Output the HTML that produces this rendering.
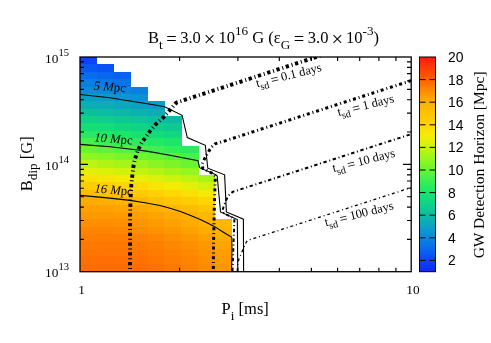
<!DOCTYPE html><html><head><meta charset="utf-8"><style>html,body{margin:0;padding:0;background:#fff}svg{display:block;will-change:transform}text{font-family:"Liberation Serif",serif;fill:#000}.s{font-family:"Liberation Sans",sans-serif}</style></head><body>
<svg width="491" height="343" viewBox="0 0 491 343">
<rect width="491" height="343" fill="#fff"/>
<defs><linearGradient id="cb" x1="0" y1="0" x2="0" y2="1"><stop offset="0.0000" stop-color="#ff190f"/><stop offset="0.1053" stop-color="#ff6103"/><stop offset="0.1579" stop-color="#ff8a00"/><stop offset="0.2105" stop-color="#ffb000"/><stop offset="0.3158" stop-color="#ffd404"/><stop offset="0.3684" stop-color="#f5ec05"/><stop offset="0.4211" stop-color="#c8f30c"/><stop offset="0.4737" stop-color="#96f61e"/><stop offset="0.5263" stop-color="#66f532"/><stop offset="0.5789" stop-color="#3aee55"/><stop offset="0.6316" stop-color="#18e56c"/><stop offset="0.6842" stop-color="#0ed287"/><stop offset="0.7368" stop-color="#0cbba2"/><stop offset="0.7895" stop-color="#0ca2c3"/><stop offset="0.8421" stop-color="#0a87de"/><stop offset="0.8947" stop-color="#0869ee"/><stop offset="0.9474" stop-color="#0a46f6"/><stop offset="1.0000" stop-color="#1228fa"/></linearGradient><clipPath id="cp"><rect x="80.0" y="57.0" width="331.0" height="214.7"/></clipPath></defs>
<g shape-rendering="crispEdges">
<rect x="80.00" y="57.00" width="17.19" height="7.68" fill="#0b44f6"/>
<rect x="80.00" y="64.38" width="17.19" height="7.68" fill="#0958f2"/>
<rect x="80.00" y="71.76" width="17.19" height="7.68" fill="#086dec"/>
<rect x="80.00" y="79.14" width="17.19" height="7.68" fill="#097ee3"/>
<rect x="80.00" y="86.52" width="17.19" height="7.68" fill="#0b8ed7"/>
<rect x="80.00" y="93.90" width="17.19" height="7.68" fill="#0c9fc6"/>
<rect x="80.00" y="101.28" width="17.19" height="7.68" fill="#0cafb1"/>
<rect x="80.00" y="108.66" width="17.19" height="7.68" fill="#0cc09c"/>
<rect x="80.00" y="116.03" width="17.19" height="7.68" fill="#0ed188"/>
<rect x="80.00" y="123.41" width="17.19" height="7.68" fill="#15df74"/>
<rect x="80.00" y="130.79" width="17.19" height="7.68" fill="#28e961"/>
<rect x="80.00" y="138.17" width="17.19" height="7.68" fill="#45f04c"/>
<rect x="80.00" y="145.55" width="17.19" height="7.68" fill="#68f531"/>
<rect x="80.00" y="152.93" width="17.19" height="7.68" fill="#90f621"/>
<rect x="80.00" y="160.31" width="17.19" height="7.68" fill="#baf411"/>
<rect x="80.00" y="167.69" width="17.19" height="7.68" fill="#e3ef08"/>
<rect x="80.00" y="175.07" width="17.19" height="7.68" fill="#fae005"/>
<rect x="80.00" y="182.45" width="17.19" height="7.68" fill="#ffcd03"/>
<rect x="80.00" y="189.83" width="17.19" height="7.68" fill="#ffbd01"/>
<rect x="80.00" y="197.21" width="17.19" height="7.68" fill="#ffac00"/>
<rect x="80.00" y="204.59" width="17.19" height="7.68" fill="#ffa100"/>
<rect x="80.00" y="211.97" width="17.19" height="7.68" fill="#ff9900"/>
<rect x="80.00" y="219.34" width="17.19" height="7.68" fill="#ff8e00"/>
<rect x="80.00" y="226.72" width="17.19" height="7.68" fill="#ff8500"/>
<rect x="80.00" y="234.10" width="17.19" height="7.68" fill="#ff7f01"/>
<rect x="80.00" y="241.48" width="17.19" height="7.68" fill="#ff7a01"/>
<rect x="80.00" y="248.86" width="17.19" height="7.68" fill="#ff7502"/>
<rect x="80.00" y="256.24" width="17.19" height="7.68" fill="#ff7002"/>
<rect x="80.00" y="263.62" width="17.19" height="8.38" fill="#ff6c02"/>
<rect x="96.89" y="64.38" width="17.19" height="7.68" fill="#0952f3"/>
<rect x="96.89" y="71.76" width="17.19" height="7.68" fill="#0867ee"/>
<rect x="96.89" y="79.14" width="17.19" height="7.68" fill="#0979e5"/>
<rect x="96.89" y="86.52" width="17.19" height="7.68" fill="#0a8adb"/>
<rect x="96.89" y="93.90" width="17.19" height="7.68" fill="#0b9acb"/>
<rect x="96.89" y="101.28" width="17.19" height="7.68" fill="#0cabb7"/>
<rect x="96.89" y="108.66" width="17.19" height="7.68" fill="#0cbca1"/>
<rect x="96.89" y="116.03" width="17.19" height="7.68" fill="#0ecd8d"/>
<rect x="96.89" y="123.41" width="17.19" height="7.68" fill="#13dc79"/>
<rect x="96.89" y="130.79" width="17.19" height="7.68" fill="#21e766"/>
<rect x="96.89" y="138.17" width="17.19" height="7.68" fill="#3dee53"/>
<rect x="96.89" y="145.55" width="17.19" height="7.68" fill="#60f437"/>
<rect x="96.89" y="152.93" width="17.19" height="7.68" fill="#86f625"/>
<rect x="96.89" y="160.31" width="17.19" height="7.68" fill="#b0f415"/>
<rect x="96.89" y="167.69" width="17.19" height="7.68" fill="#daf009"/>
<rect x="96.89" y="175.07" width="17.19" height="7.68" fill="#f8e505"/>
<rect x="96.89" y="182.45" width="17.19" height="7.68" fill="#ffd104"/>
<rect x="96.89" y="189.83" width="17.19" height="7.68" fill="#ffc102"/>
<rect x="96.89" y="197.21" width="17.19" height="7.68" fill="#ffb000"/>
<rect x="96.89" y="204.59" width="17.19" height="7.68" fill="#ffa200"/>
<rect x="96.89" y="211.97" width="17.19" height="7.68" fill="#ff9900"/>
<rect x="96.89" y="219.34" width="17.19" height="7.68" fill="#ff8f00"/>
<rect x="96.89" y="226.72" width="17.19" height="7.68" fill="#ff8400"/>
<rect x="96.89" y="234.10" width="17.19" height="7.68" fill="#ff7d01"/>
<rect x="96.89" y="241.48" width="17.19" height="7.68" fill="#ff7901"/>
<rect x="96.89" y="248.86" width="17.19" height="7.68" fill="#ff7402"/>
<rect x="96.89" y="256.24" width="17.19" height="7.68" fill="#ff6e02"/>
<rect x="96.89" y="263.62" width="17.19" height="8.38" fill="#ff6a02"/>
<rect x="113.78" y="71.76" width="17.19" height="7.68" fill="#0861f0"/>
<rect x="113.78" y="79.14" width="17.19" height="7.68" fill="#0974e8"/>
<rect x="113.78" y="86.52" width="17.19" height="7.68" fill="#0a86df"/>
<rect x="113.78" y="93.90" width="17.19" height="7.68" fill="#0b96cf"/>
<rect x="113.78" y="101.28" width="17.19" height="7.68" fill="#0ca6bd"/>
<rect x="113.78" y="108.66" width="17.19" height="7.68" fill="#0cb7a7"/>
<rect x="113.78" y="116.03" width="17.19" height="7.68" fill="#0dc893"/>
<rect x="113.78" y="123.41" width="17.19" height="7.68" fill="#11d87f"/>
<rect x="113.78" y="130.79" width="17.19" height="7.68" fill="#1ae66b"/>
<rect x="113.78" y="138.17" width="17.19" height="7.68" fill="#35ed59"/>
<rect x="113.78" y="145.55" width="17.19" height="7.68" fill="#56f23f"/>
<rect x="113.78" y="152.93" width="17.19" height="7.68" fill="#7bf529"/>
<rect x="113.78" y="160.31" width="17.19" height="7.68" fill="#a4f519"/>
<rect x="113.78" y="167.69" width="17.19" height="7.68" fill="#cff20b"/>
<rect x="113.78" y="175.07" width="17.19" height="7.68" fill="#f5eb05"/>
<rect x="113.78" y="182.45" width="17.19" height="7.68" fill="#fed604"/>
<rect x="113.78" y="189.83" width="17.19" height="7.68" fill="#ffc502"/>
<rect x="113.78" y="197.21" width="17.19" height="7.68" fill="#ffb400"/>
<rect x="113.78" y="204.59" width="17.19" height="7.68" fill="#ffa400"/>
<rect x="113.78" y="211.97" width="17.19" height="7.68" fill="#ff9a00"/>
<rect x="113.78" y="219.34" width="17.19" height="7.68" fill="#ff9100"/>
<rect x="113.78" y="226.72" width="17.19" height="7.68" fill="#ff8600"/>
<rect x="113.78" y="234.10" width="17.19" height="7.68" fill="#ff7e01"/>
<rect x="113.78" y="241.48" width="17.19" height="7.68" fill="#ff7901"/>
<rect x="113.78" y="248.86" width="17.19" height="7.68" fill="#ff7402"/>
<rect x="113.78" y="256.24" width="17.19" height="7.68" fill="#ff6f02"/>
<rect x="113.78" y="263.62" width="17.19" height="8.38" fill="#ff6a02"/>
<rect x="130.67" y="86.52" width="17.19" height="7.68" fill="#0a81e1"/>
<rect x="130.67" y="93.90" width="17.19" height="7.68" fill="#0b91d4"/>
<rect x="130.67" y="101.28" width="17.19" height="7.68" fill="#0ca1c4"/>
<rect x="130.67" y="108.66" width="17.19" height="7.68" fill="#0cb2ae"/>
<rect x="130.67" y="116.03" width="17.19" height="7.68" fill="#0dc399"/>
<rect x="130.67" y="123.41" width="17.19" height="7.68" fill="#0fd385"/>
<rect x="130.67" y="130.79" width="17.19" height="7.68" fill="#16e271"/>
<rect x="130.67" y="138.17" width="17.19" height="7.68" fill="#2cea5e"/>
<rect x="130.67" y="145.55" width="17.19" height="7.68" fill="#4bf147"/>
<rect x="130.67" y="152.93" width="17.19" height="7.68" fill="#6ff52e"/>
<rect x="130.67" y="160.31" width="17.19" height="7.68" fill="#97f61e"/>
<rect x="130.67" y="167.69" width="17.19" height="7.68" fill="#c2f30e"/>
<rect x="130.67" y="175.07" width="17.19" height="7.68" fill="#ebee07"/>
<rect x="130.67" y="182.45" width="17.19" height="7.68" fill="#fcdc04"/>
<rect x="130.67" y="189.83" width="17.19" height="7.68" fill="#ffca03"/>
<rect x="130.67" y="197.21" width="17.19" height="7.68" fill="#ffb901"/>
<rect x="130.67" y="204.59" width="17.19" height="7.68" fill="#ffa800"/>
<rect x="130.67" y="211.97" width="17.19" height="7.68" fill="#ff9e00"/>
<rect x="130.67" y="219.34" width="17.19" height="7.68" fill="#ff9500"/>
<rect x="130.67" y="226.72" width="17.19" height="7.68" fill="#ff8b00"/>
<rect x="130.67" y="234.10" width="17.19" height="7.68" fill="#ff8101"/>
<rect x="130.67" y="241.48" width="17.19" height="7.68" fill="#ff7b01"/>
<rect x="130.67" y="248.86" width="17.19" height="7.68" fill="#ff7701"/>
<rect x="130.67" y="256.24" width="17.19" height="7.68" fill="#ff7202"/>
<rect x="130.67" y="263.62" width="17.19" height="8.38" fill="#ff6d02"/>
<rect x="147.56" y="101.28" width="17.19" height="7.68" fill="#0c9cc9"/>
<rect x="147.56" y="108.66" width="17.19" height="7.68" fill="#0cadb5"/>
<rect x="147.56" y="116.03" width="17.19" height="7.68" fill="#0cbe9f"/>
<rect x="147.56" y="123.41" width="17.19" height="7.68" fill="#0ece8b"/>
<rect x="147.56" y="130.79" width="17.19" height="7.68" fill="#14dd77"/>
<rect x="147.56" y="138.17" width="17.19" height="7.68" fill="#24e864"/>
<rect x="147.56" y="145.55" width="17.19" height="7.68" fill="#40ef51"/>
<rect x="147.56" y="152.93" width="17.19" height="7.68" fill="#63f435"/>
<rect x="147.56" y="160.31" width="17.19" height="7.68" fill="#89f623"/>
<rect x="147.56" y="167.69" width="17.19" height="7.68" fill="#b3f413"/>
<rect x="147.56" y="175.07" width="17.19" height="7.68" fill="#ddf009"/>
<rect x="147.56" y="182.45" width="17.19" height="7.68" fill="#f8e405"/>
<rect x="147.56" y="189.83" width="17.19" height="7.68" fill="#ffd004"/>
<rect x="147.56" y="197.21" width="17.19" height="7.68" fill="#ffc002"/>
<rect x="147.56" y="204.59" width="17.19" height="7.68" fill="#ffaf00"/>
<rect x="147.56" y="211.97" width="17.19" height="7.68" fill="#ffa300"/>
<rect x="147.56" y="219.34" width="17.19" height="7.68" fill="#ff9a00"/>
<rect x="147.56" y="226.72" width="17.19" height="7.68" fill="#ff9000"/>
<rect x="147.56" y="234.10" width="17.19" height="7.68" fill="#ff8600"/>
<rect x="147.56" y="241.48" width="17.19" height="7.68" fill="#ff8001"/>
<rect x="147.56" y="248.86" width="17.19" height="7.68" fill="#ff7b01"/>
<rect x="147.56" y="256.24" width="17.19" height="7.68" fill="#ff7601"/>
<rect x="147.56" y="263.62" width="17.19" height="8.38" fill="#ff7102"/>
<rect x="164.45" y="116.03" width="17.19" height="7.68" fill="#0cb8a6"/>
<rect x="164.45" y="123.41" width="17.19" height="7.68" fill="#0dc992"/>
<rect x="164.45" y="130.79" width="17.19" height="7.68" fill="#11d87e"/>
<rect x="164.45" y="138.17" width="17.19" height="7.68" fill="#1be66a"/>
<rect x="164.45" y="145.55" width="17.19" height="7.68" fill="#35ed59"/>
<rect x="164.45" y="152.93" width="17.19" height="7.68" fill="#56f23f"/>
<rect x="164.45" y="160.31" width="17.19" height="7.68" fill="#7bf529"/>
<rect x="164.45" y="167.69" width="17.19" height="7.68" fill="#a3f519"/>
<rect x="164.45" y="175.07" width="17.19" height="7.68" fill="#cef20b"/>
<rect x="164.45" y="182.45" width="17.19" height="7.68" fill="#f5ec05"/>
<rect x="164.45" y="189.83" width="17.19" height="7.68" fill="#fed704"/>
<rect x="164.45" y="197.21" width="17.19" height="7.68" fill="#ffc602"/>
<rect x="164.45" y="204.59" width="17.19" height="7.68" fill="#ffb501"/>
<rect x="164.45" y="211.97" width="17.19" height="7.68" fill="#ffaa00"/>
<rect x="164.45" y="219.34" width="17.19" height="7.68" fill="#ffa100"/>
<rect x="164.45" y="226.72" width="17.19" height="7.68" fill="#ff9800"/>
<rect x="164.45" y="234.10" width="17.19" height="7.68" fill="#ff8e00"/>
<rect x="164.45" y="241.48" width="17.19" height="7.68" fill="#ff8600"/>
<rect x="164.45" y="248.86" width="17.19" height="7.68" fill="#ff8101"/>
<rect x="164.45" y="256.24" width="17.19" height="7.68" fill="#ff7d01"/>
<rect x="164.45" y="263.62" width="17.19" height="8.38" fill="#ff7801"/>
<rect x="181.34" y="145.55" width="17.19" height="7.68" fill="#2bea5f"/>
<rect x="181.34" y="152.93" width="17.19" height="7.68" fill="#48f04a"/>
<rect x="181.34" y="160.31" width="17.19" height="7.68" fill="#6bf530"/>
<rect x="181.34" y="167.69" width="17.19" height="7.68" fill="#92f61f"/>
<rect x="181.34" y="175.07" width="17.19" height="7.68" fill="#bdf410"/>
<rect x="181.34" y="182.45" width="17.19" height="7.68" fill="#e5ef08"/>
<rect x="181.34" y="189.83" width="17.19" height="7.68" fill="#fae004"/>
<rect x="181.34" y="197.21" width="17.19" height="7.68" fill="#ffcd03"/>
<rect x="181.34" y="204.59" width="17.19" height="7.68" fill="#ffbc01"/>
<rect x="181.34" y="211.97" width="17.19" height="7.68" fill="#ffb200"/>
<rect x="181.34" y="219.34" width="17.19" height="7.68" fill="#ffaa00"/>
<rect x="181.34" y="226.72" width="17.19" height="7.68" fill="#ffa100"/>
<rect x="181.34" y="234.10" width="17.19" height="7.68" fill="#ff9700"/>
<rect x="181.34" y="241.48" width="17.19" height="7.68" fill="#ff8f00"/>
<rect x="181.34" y="248.86" width="17.19" height="7.68" fill="#ff8a00"/>
<rect x="181.34" y="256.24" width="17.19" height="7.68" fill="#ff8500"/>
<rect x="181.34" y="263.62" width="17.19" height="8.38" fill="#ff8001"/>
<rect x="198.23" y="175.07" width="17.19" height="7.68" fill="#aaf517"/>
<rect x="198.23" y="182.45" width="17.19" height="7.68" fill="#d3f10a"/>
<rect x="198.23" y="189.83" width="17.19" height="7.68" fill="#f6e905"/>
<rect x="198.23" y="197.21" width="17.19" height="7.68" fill="#ffd504"/>
<rect x="198.23" y="204.59" width="17.19" height="7.68" fill="#ffc502"/>
<rect x="198.23" y="211.97" width="17.19" height="7.68" fill="#ffb701"/>
<rect x="198.23" y="219.34" width="17.19" height="7.68" fill="#ffb200"/>
<rect x="198.23" y="226.72" width="17.19" height="7.68" fill="#ffab00"/>
<rect x="198.23" y="234.10" width="17.19" height="7.68" fill="#ffa100"/>
<rect x="198.23" y="241.48" width="17.19" height="7.68" fill="#ff9800"/>
<rect x="198.23" y="248.86" width="17.19" height="7.68" fill="#ff9300"/>
<rect x="198.23" y="256.24" width="17.19" height="7.68" fill="#ff8f00"/>
<rect x="198.23" y="263.62" width="17.19" height="8.38" fill="#ff8a00"/>
<rect x="215.12" y="219.34" width="17.19" height="7.68" fill="#ffb701"/>
<rect x="215.12" y="226.72" width="17.19" height="7.68" fill="#ffb300"/>
<rect x="215.12" y="234.10" width="17.19" height="7.68" fill="#ffae00"/>
<rect x="215.12" y="241.48" width="17.19" height="7.68" fill="#ffa400"/>
<rect x="215.12" y="248.86" width="17.19" height="7.68" fill="#ff9e00"/>
<rect x="215.12" y="256.24" width="17.19" height="7.68" fill="#ff9a00"/>
<rect x="215.12" y="263.62" width="17.19" height="8.38" fill="#ff9600"/>
</g>
<g clip-path="url(#cp)" fill="none" stroke="#000" stroke-linejoin="miter">
<path d="M79.5,94.4 L110.0,97.8 L125.0,100.3 L147.5,103.8 L164.7,106.8 L182.1,115.3 L187.3,137.6 L205.3,145.3 L207.8,168.2 L224.6,174.8 L226.4,211.9 L243.4,219.2 L243.6,272.0" stroke-width="1.1"/>
<path d="M79.5,144.3 L110.0,146.8 L138.0,150.0 L148.0,151.4 L168.6,155.0 L198.0,160.6 L199.6,167.7 L215.9,174.8 L217.2,176.0 L220.5,211.9 L237.3,219.5 L237.8,272.0" stroke-width="1.1"/>
<path d="M79.5,195.3 L105.0,197.6 L130.0,200.4 L145.0,202.8 L160.0,205.5 L170.0,208.2 L180.4,211.6 L190.0,215.3 L200.8,219.8 L208.0,223.3 L215.0,226.9 L223.0,232.0 L231.8,237.4 L232.0,250.0 L231.6,272.0" stroke-width="1.1"/>
<path d="M130.1,272.0 L130.1,215.0 L130.5,200.0 L131.3,185.0 L132.3,175.7 L133.5,166.0 L135.1,158.6 L138.7,148.6 L141.5,143.0 L145.7,137.1 L150.0,131.0 L155.7,124.3 L163.8,117.0 L169.3,110.7 L176.4,102.6 L330.0,52.5" stroke-width="3.9" stroke-dasharray="3.3 2.85 1 2.6" stroke-dashoffset="3.1" stroke-linejoin="round"/>
<path d="M213.3,272.0 L213.6,240.0 L214.5,200.0 L215.2,181.0 L215.4,176.0 L211.3,172.8 L202.7,168.2 L202.1,164.1 L204.2,159.5 L206.3,155.4 L208.9,151.1 L211.4,147.2 L215.0,143.9 L224.2,141.1 L415.0,79.4" stroke-width="3.0" stroke-dasharray="3.0 2.9 1 2.8" stroke-dashoffset="-3" stroke-linejoin="round"/>
<path d="M232.5,272.0 L234.3,222.0 L234.3,218.6 L223.7,213.0 L222.5,210.6 L223.4,207.4 L225.3,202.4 L227.6,197.0 L230.0,194.0 L233.2,191.6 L236.0,190.8 L415.0,132.9" stroke-width="2.0" stroke-dasharray="3.4 2.7 1 2.6" stroke-dashoffset="-1" stroke-linejoin="round"/>
<path d="M237.2,272.0 L237.7,264.0 L239.0,258.9 L241.3,253.6 L244.2,246.5 L245.7,243.3 L247.2,240.7 L250.0,239.7 L415.0,186.4" stroke-width="1.3" stroke-dasharray="3.0 2.9 1 2.8" stroke-dashoffset="-1" stroke-linejoin="round"/>
</g>
<g stroke="#000" stroke-width="1.15" fill="none">
<rect x="80.0" y="57.0" width="331.2" height="214.7" stroke-width="1.3"/>
<path d="M179.6,271.7v-4 M179.6,57.0v4 M237.9,271.7v-4 M237.9,57.0v4 M279.3,271.7v-4 M279.3,57.0v4 M311.4,271.7v-4 M311.4,57.0v4 M337.6,271.7v-4 M337.6,57.0v4 M359.7,271.7v-4 M359.7,57.0v4 M378.9,271.7v-4 M378.9,57.0v4 M395.9,271.7v-4 M395.9,57.0v4 M80.0,239.4h4 M411.0,239.4h-4 M80.0,220.5h4 M411.0,220.5h-4 M80.0,207.1h4 M411.0,207.1h-4 M80.0,196.7h4 M411.0,196.7h-4 M80.0,188.2h4 M411.0,188.2h-4 M80.0,181.0h4 M411.0,181.0h-4 M80.0,174.8h4 M411.0,174.8h-4 M80.0,169.3h4 M411.0,169.3h-4 M80.0,164.3h8 M411.0,164.3h-8 M80.0,132.0h4 M411.0,132.0h-4 M80.0,113.1h4 M411.0,113.1h-4 M80.0,99.7h4 M411.0,99.7h-4 M80.0,89.3h4 M411.0,89.3h-4 M80.0,80.8h4 M411.0,80.8h-4 M80.0,73.6h4 M411.0,73.6h-4 M80.0,67.4h4 M411.0,67.4h-4 M80.0,61.9h4 M411.0,61.9h-4"/>
</g>
<rect x="419.5" y="57.0" width="16.0" height="214.7" fill="url(#cb)" stroke="#000" stroke-width="1"/>
<path d="M419.5,260.4h6 M435.5,260.4h-6 M419.5,237.8h6 M435.5,237.8h-6 M419.5,215.2h6 M435.5,215.2h-6 M419.5,192.6h6 M435.5,192.6h-6 M419.5,170.0h6 M435.5,170.0h-6 M419.5,147.4h6 M435.5,147.4h-6 M419.5,124.8h6 M435.5,124.8h-6 M419.5,102.2h6 M435.5,102.2h-6 M419.5,79.6h6 M435.5,79.6h-6" stroke="#000" stroke-width="1" fill="none"/>
<text class="s" x="448" y="265.4" font-size="13.9">2</text>
<text class="s" x="448" y="242.8" font-size="13.9">4</text>
<text class="s" x="448" y="220.2" font-size="13.9">6</text>
<text class="s" x="448" y="197.6" font-size="13.9">8</text>
<text class="s" x="448" y="175.0" font-size="13.9">10</text>
<text class="s" x="448" y="152.4" font-size="13.9">12</text>
<text class="s" x="448" y="129.8" font-size="13.9">14</text>
<text class="s" x="448" y="107.2" font-size="13.9">16</text>
<text class="s" x="448" y="84.6" font-size="13.9">18</text>
<text class="s" x="448" y="62.0" font-size="13.9">20</text>
<text x="263.5" y="43.3" font-size="16.5" text-anchor="middle">B<tspan font-size="13.20" dy="5.94">t</tspan><tspan dy="-5.94" font-size="16.5">​</tspan> <tspan font-size="18.48" dx="-0.56" dy="1.65">=</tspan><tspan dx="-0.56" dy="-1.65" font-size="16.5"> </tspan>3.0 <tspan font-size="20.6" dx="-1.15" dy="2.3">×</tspan><tspan dx="-1.15" dy="-2.3"> </tspan>10<tspan font-size="13.20" dy="-8.25">16</tspan><tspan dy="8.25" font-size="16.5">​</tspan> G (ε<tspan font-size="13.20" dy="5.94">G</tspan><tspan dy="-5.94" font-size="16.5">​</tspan> <tspan font-size="18.48" dx="-0.56" dy="1.65">=</tspan><tspan dx="-0.56" dy="-1.65" font-size="16.5"> </tspan>3.0 <tspan font-size="20.6" dx="-1.15" dy="2.3">×</tspan><tspan dx="-1.15" dy="-2.3"> </tspan>10<tspan font-size="13.20" dy="-8.25">-3</tspan><tspan dy="8.25" font-size="16.5">​</tspan>)</text>
<text x="245.2" y="313.6" font-size="16.5" text-anchor="middle">P<tspan font-size="13.20" dy="5.94">i</tspan><tspan dy="-5.94" font-size="16.5">​</tspan> [ms]</text>
<text transform="translate(32.3,163.7) rotate(-90)" font-size="16.5" text-anchor="middle">B<tspan font-size="13.20" dy="4.95">dip</tspan><tspan dy="-4.95" font-size="16.5">​</tspan> [G]</text>
<text transform="translate(484,164.9) rotate(-90)" font-size="15.5" text-anchor="middle">GW Detection Horizon [Mpc]</text>
<text x="69" y="62.9" font-size="13.3" text-anchor="end">10<tspan font-size="10.64" dy="-6.65">15</tspan><tspan dy="6.65" font-size="13.3">​</tspan></text>
<text x="69" y="170.0" font-size="13.3" text-anchor="end">10<tspan font-size="10.64" dy="-6.65">14</tspan><tspan dy="6.65" font-size="13.3">​</tspan></text>
<text x="69" y="277.0" font-size="13.3" text-anchor="end">10<tspan font-size="10.64" dy="-6.65">13</tspan><tspan dy="6.65" font-size="13.3">​</tspan></text>
<text x="81.6" y="293.7" font-size="13.3" text-anchor="middle">1</text>
<text x="413" y="293.7" font-size="13.3" text-anchor="middle">10</text>
<text transform="translate(93.6,89.5) rotate(5)" font-size="12.7"><tspan font-style="italic">5 M</tspan>pc</text>
<text transform="translate(94.0,141.2) rotate(5)" font-size="12.7"><tspan font-style="italic">10 M</tspan>pc</text>
<text transform="translate(94.2,192.3) rotate(5)" font-size="12.7"><tspan font-style="italic">16 M</tspan>pc</text>
<text transform="translate(257,87.2) rotate(-14)" font-size="12.5">t<tspan font-size="10.00" dy="3.75">sd</tspan><tspan dy="-3.75" font-size="12.5">​</tspan> <tspan font-size="14.00" dx="-0.43" dy="1.25">=</tspan><tspan dx="-0.43" dy="-1.25" font-size="12.5"> </tspan>0.1 days</text>
<text transform="translate(338.5,116) rotate(-14)" font-size="12.5">t<tspan font-size="10.00" dy="3.75">sd</tspan><tspan dy="-3.75" font-size="12.5">​</tspan> <tspan font-size="14.00" dx="-0.43" dy="1.25">=</tspan><tspan dx="-0.43" dy="-1.25" font-size="12.5"> </tspan>1 days</text>
<text transform="translate(333.5,172.1) rotate(-14)" font-size="12.5">t<tspan font-size="10.00" dy="3.75">sd</tspan><tspan dy="-3.75" font-size="12.5">​</tspan> <tspan font-size="14.00" dx="-0.43" dy="1.25">=</tspan><tspan dx="-0.43" dy="-1.25" font-size="12.5"> </tspan>10 days</text>
<text transform="translate(325.8,226.2) rotate(-14)" font-size="12.5">t<tspan font-size="10.00" dy="3.75">sd</tspan><tspan dy="-3.75" font-size="12.5">​</tspan> <tspan font-size="14.00" dx="-0.43" dy="1.25">=</tspan><tspan dx="-0.43" dy="-1.25" font-size="12.5"> </tspan>100 days</text>
</svg></body></html>
